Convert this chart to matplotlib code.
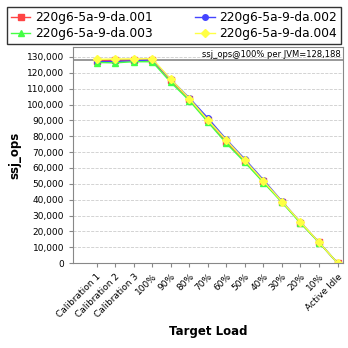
import numpy as np
import matplotlib
matplotlib.use('Agg')
import matplotlib.pyplot as plt
from matplotlib.ticker import FuncFormatter

loads = ["Calibration 1", "Calibration 2", "Calibration 3", "100%", "90%", "80%",
         "70%", "60%", "50%", "40%", "30%", "20%", "10%", "Active Idle"]
names = ["220g6-5a-9-da.001", "220g6-5a-9-da.002", "220g6-5a-9-da.003", "220g6-5a-9-da.004"]
s001 = [127500, 127800, 127800, 128100, 115200, 103500, 90000, 76500, 64500, 51500, 38600, 25500, 13000, 0]
s002 = [127000, 127200, 127500, 128300, 115800, 104200, 91500, 78000, 65500, 52500, 39000, 25800, 13100, 0]
s003 = [126500, 126300, 127000, 127000, 114000, 102500, 89000, 75500, 63500, 50800, 38300, 25200, 12900, 0]
s004 = [128500, 128700, 128800, 128900, 116000, 103800, 90200, 77500, 64800, 51800, 38800, 25900, 13100, 0]
ref = 128188

colors = ["#ff4444", "#4444ff", "#44ff44", "#ffff44"]
markers = ["s", "o", "^", "D"]

fig = plt.figure(figsize=(3.48, 3.48), dpi=100)
ax = fig.add_axes([0.21, 0.244, 0.776, 0.621])
x = np.arange(len(loads))
lines = []
for s, c, m, n in zip([s001, s002, s003, s004], colors, markers, names):
    ln, = ax.plot(x, s, color=c, marker=m, markersize=4, linewidth=1.0, label=n)
    lines.append(ln)
ax.axhline(ref, color="#888888", linewidth=1.2, zorder=0)
ax.text(0.99, 0.985, "ssj_ops@100% per JVM=128,188", transform=ax.transAxes,
        ha="right", va="top", fontsize=6)

ax.set_xlim(-1.27, 13.3)
ax.set_ylim(0, 136300)
ax.set_yticks(np.arange(0, 130001, 10000))
ax.yaxis.set_major_formatter(FuncFormatter(lambda v, p: f"{int(v):,}"))
ax.set_xticks(x)
ax.set_xticklabels(loads, rotation=45, ha="right", rotation_mode="anchor")
ax.tick_params(labelsize=6.5, length=3, color="#888888")
ax.grid(axis="y", color="#cccccc", linestyle="--", linewidth=0.6)
for sp in ax.spines.values():
    sp.set_color("#888888")
ax.set_xlabel("Target Load", fontsize=8.5, fontweight="bold")
ax.set_ylabel("ssj_ops", fontsize=8.5, fontweight="bold")

order = [0, 2, 1, 3]
fig.legend([lines[i] for i in order], [names[i] for i in order],
           loc="upper left", bbox_to_anchor=(0.003, 0.878, 0.994, 0.119), mode="expand",
           ncol=2, fontsize=8.8, frameon=True, fancybox=False, edgecolor="black",
           handlelength=1.6, handletextpad=0.4, borderpad=0.3, labelspacing=0.3,
           columnspacing=0.5, markerscale=1.0)
fig.savefig("out.png", dpi=100)
